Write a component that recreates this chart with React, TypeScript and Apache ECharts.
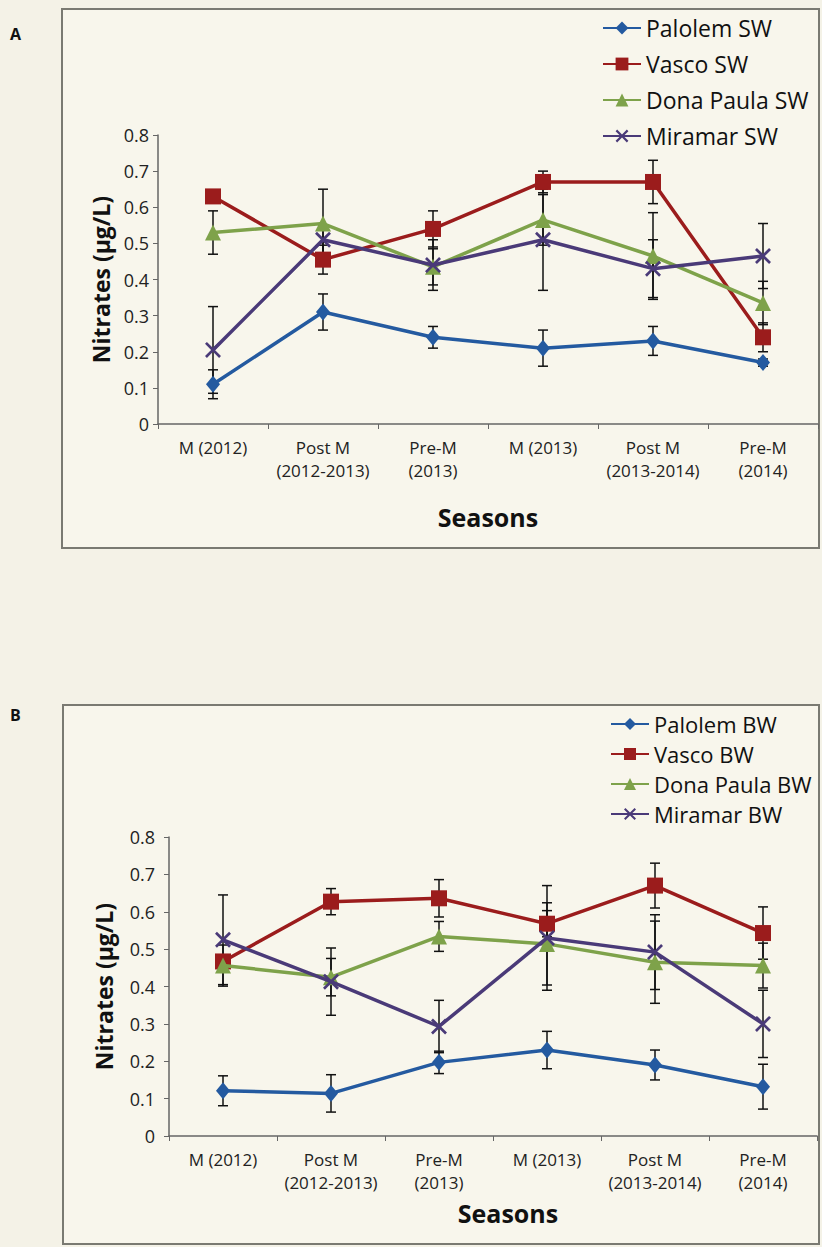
import React, { useEffect, useRef } from "react";
import * as echarts from "echarts";

const categories = ["M (2012)", "Post M\n(2012-2013)", "Pre-M\n(2013)", "M (2013)", "Post M\n(2013-2014)", "Pre-M\n(2014)"];
const yTicks = [0, 0.1, 0.2, 0.3, 0.4, 0.5, 0.6, 0.7, 0.8];

const palolemSW = [0.11, 0.31, 0.24, 0.21, 0.23, 0.17];
const palolemSWErr = [0.04, 0.05, 0.03, 0.05, 0.04, 0.01];
const vascoSW = [0.63, 0.455, 0.54, 0.67, 0.67, 0.24];
const vascoSWErr = [0.01, 0.04, 0.05, 0.03, 0.06, 0.04];
const donaSW = [0.53, 0.555, 0.435, 0.565, 0.465, 0.335];
const donaSWErr = [0.06, 0.095, 0.05, 0.07, 0.12, 0.06];
const miramarSW = [0.205, 0.51, 0.44, 0.51, 0.43, 0.465];
const miramarSWErr = [0.12, 0.04, 0.07, 0.14, 0.08, 0.09];

const palolemBW = [0.121, 0.114, 0.197, 0.23, 0.19, 0.132];
const palolemBWErr = [0.04, 0.05, 0.03, 0.05, 0.04, 0.06];
const vascoBW = [0.467, 0.627, 0.636, 0.568, 0.67, 0.543];
const vascoBWErr = [0.01, 0.035, 0.05, 0.035, 0.06, 0.07];
const donaBW = [0.456, 0.425, 0.534, 0.514, 0.465, 0.456];
const donaBWErr = [0.055, 0.05, 0.04, 0.11, 0.11, 0.06];
const miramarBW = [0.525, 0.413, 0.293, 0.53, 0.492, 0.3];
const miramarBWErr = [0.12, 0.09, 0.07, 0.14, 0.1, 0.09];

const namesA = ["Palolem SW", "Vasco SW", "Dona Paula SW", "Miramar SW"];
const namesB = ["Palolem BW", "Vasco BW", "Dona Paula BW", "Miramar BW"];

const COLORS = ["#245aa0", "#9b1c1c", "#7ea24a", "#4a3a78"];
const FONT = "'Open Sans', sans-serif";
const X_SYMBOL = "path://M0,1.2 L1.2,0 L5,3.8 L8.8,0 L10,1.2 L6.2,5 L10,8.8 L8.8,10 L5,6.2 L1.2,10 L0,8.8 L3.8,5 Z";
const SYMBOLS = ["diamond", "rect", "triangle", X_SYMBOL];
const SYMBOL_SIZES: any[] = [[14, 17], 16, 16, 16];

function errorSeries(vals: number[], errs: number[], idx: number) {
  return {
    type: "custom",
    xAxisIndex: idx,
    yAxisIndex: idx,
    z: 2.5,
    silent: true,
    data: vals.map((v, i) => [i, v - errs[i], v + errs[i]]),
    encode: { x: 0, y: [1, 2] },
    renderItem: (params: any, api: any) => {
      const x = api.value(0);
      const lo = api.coord([x, api.value(1)]);
      const hi = api.coord([x, api.value(2)]);
      const cap = 5;
      const style = { stroke: "#111", lineWidth: 1.5 };
      return {
        type: "group",
        children: [
          { type: "line", shape: { x1: hi[0], y1: hi[1], x2: lo[0], y2: lo[1] }, style },
          { type: "line", shape: { x1: hi[0] - cap, y1: hi[1], x2: hi[0] + cap, y2: hi[1] }, style },
          { type: "line", shape: { x1: lo[0] - cap, y1: lo[1], x2: lo[0] + cap, y2: lo[1] }, style },
        ],
      };
    },
  };
}

function lineSeries(name: string, vals: number[], k: number, idx: number) {
  return {
    type: "line",
    name,
    xAxisIndex: idx,
    yAxisIndex: idx,
    data: vals,
    symbol: SYMBOLS[k],
    symbolSize: SYMBOL_SIZES[k],
    showAllSymbol: true,
    z: 3 + k * 0.1,
    lineStyle: { color: COLORS[k], width: 3.5 },
    itemStyle: { color: COLORS[k], borderWidth: 0 },
  };
}

function axisPair(idx: number, nameGap: number, labelMargin: number) {
  const xAxis = {
    type: "category",
    gridIndex: idx,
    data: categories,
    boundaryGap: true,
    axisLine: { lineStyle: { color: "#666", width: 1.5 } },
    axisTick: { show: true, length: 5, inside: false, lineStyle: { color: "#666" } },
    axisLabel: { color: "#222", fontSize: 17, fontFamily: FONT, lineHeight: 23, margin: 12, interval: 0 },
    splitLine: { show: false },
  };
  const yAxis = {
    type: "value",
    gridIndex: idx,
    min: 0,
    max: 0.8,
    interval: 0.1,
    name: "Nitrates (µg/L)",
    nameLocation: "middle",
    nameGap,
    nameTextStyle: { fontSize: 23, fontWeight: "bold", color: "#111", fontFamily: FONT },
    axisLine: { show: true, lineStyle: { color: "#666", width: 1.5 } },
    axisTick: { show: true, length: 5, lineStyle: { color: "#666" } },
    axisLabel: {
      color: "#222",
      fontSize: 18,
      fontFamily: FONT,
      margin: labelMargin,
      formatter: (v: number) => {
        const t = yTicks.find((y) => Math.abs(y - v) < 1e-6);
        return t === undefined ? "" : String(t);
      },
    },
    splitLine: { show: false },
  };
  return { xAxis, yAxis };
}

export default function App() {
  const ref = useRef<HTMLDivElement>(null);
  useEffect(() => {
    if (!ref.current) return;
    const chart = echarts.init(ref.current, undefined, { renderer: "svg" });
    const a = axisPair(0, 44, 9);
    const b = axisPair(1, 54, 14);
    const option: any = {
      animation: false,
      backgroundColor: "#f4f2e7",
      graphic: [
        { type: "rect", shape: { x: 62, y: 9, width: 757, height: 539 }, style: { fill: "#f8f6ec", stroke: "#7a7a72", lineWidth: 2 }, z: -1 },
        { type: "rect", shape: { x: 63, y: 705, width: 756, height: 539 }, style: { fill: "#f8f6ec", stroke: "#7a7a72", lineWidth: 2 }, z: -1 },
        { type: "text", x: 10, y: 26, style: { text: "A", fontSize: 16, fontWeight: "bold", fill: "#111", fontFamily: FONT } },
        { type: "text", x: 10, y: 707, style: { text: "B", fontSize: 16, fontWeight: "bold", fill: "#111", fontFamily: FONT } },
        { type: "text", x: 488, y: 517, style: { text: "Seasons", fontSize: 25, fontWeight: "bold", fill: "#111", fontFamily: FONT, align: "center", verticalAlign: "middle" } },
        { type: "text", x: 508, y: 1213, style: { text: "Seasons", fontSize: 25, fontWeight: "bold", fill: "#111", fontFamily: FONT, align: "center", verticalAlign: "middle" } },
      ],
      legend: [
        {
          orient: "vertical",
          left: 597,
          top: 10,
          itemWidth: 38,
          itemHeight: 16,
          itemGap: 10,
          textStyle: { fontSize: 23, lineHeight: 26, color: "#111", fontFamily: FONT },
          data: namesA,
        },
        {
          orient: "vertical",
          left: 605,
          top: 707,
          itemWidth: 38,
          itemHeight: 15,
          itemGap: 6,
          textStyle: { fontSize: 22, lineHeight: 24, color: "#111", fontFamily: FONT },
          data: namesB,
        },
      ],
      grid: [
        { left: 158, top: 135, width: 660, height: 289 },
        { left: 169, top: 837, width: 648, height: 299 },
      ],
      xAxis: [a.xAxis, b.xAxis],
      yAxis: [a.yAxis, b.yAxis],
      series: [
        lineSeries(namesA[0], palolemSW, 0, 0),
        lineSeries(namesA[1], vascoSW, 1, 0),
        lineSeries(namesA[2], donaSW, 2, 0),
        lineSeries(namesA[3], miramarSW, 3, 0),
        errorSeries(palolemSW, palolemSWErr, 0),
        errorSeries(vascoSW, vascoSWErr, 0),
        errorSeries(donaSW, donaSWErr, 0),
        errorSeries(miramarSW, miramarSWErr, 0),
        lineSeries(namesB[0], palolemBW, 0, 1),
        lineSeries(namesB[1], vascoBW, 1, 1),
        lineSeries(namesB[2], donaBW, 2, 1),
        lineSeries(namesB[3], miramarBW, 3, 1),
        errorSeries(palolemBW, palolemBWErr, 1),
        errorSeries(vascoBW, vascoBWErr, 1),
        errorSeries(donaBW, donaBWErr, 1),
        errorSeries(miramarBW, miramarBWErr, 1),
      ],
    };
    chart.setOption(option);
    return () => chart.dispose();
  }, []);
  return <div ref={ref} style={{ position: "absolute", left: 0, top: 0, width: 822, height: 1247 }} />;
}
